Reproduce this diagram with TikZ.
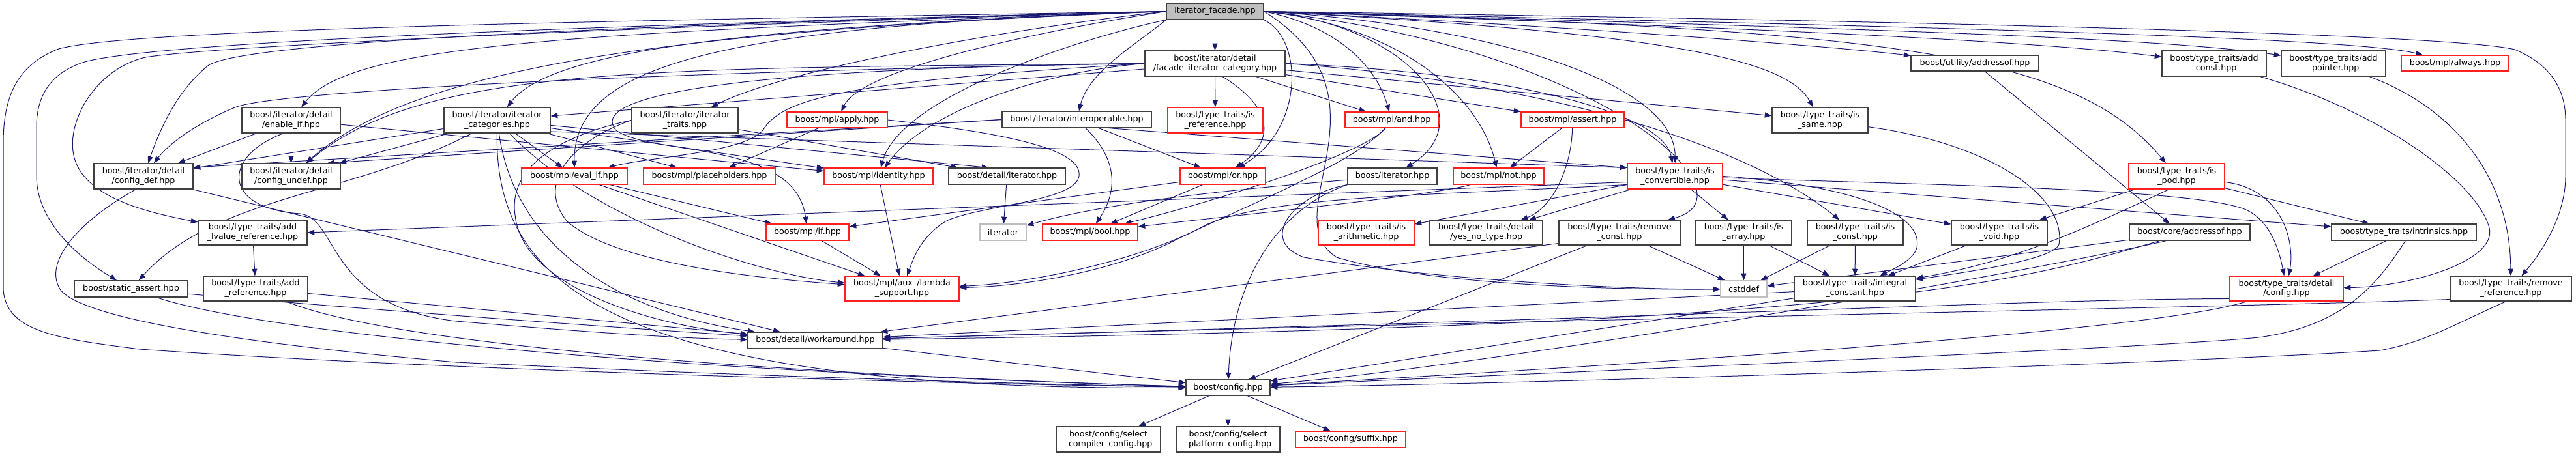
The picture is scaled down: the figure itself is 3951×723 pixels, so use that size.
\documentclass[tikz,border=0pt]{standalone}
\usepackage{fontspec}
\setmainfont{DejaVu Sans}
\usetikzlibrary{arrows.meta}
\pgfdeclarelayer{bg}
\pgfsetlayers{bg,main}
\definecolor{edgec}{HTML}{191970}
\definecolor{redc}{HTML}{FF2020}
\definecolor{darkc}{HTML}{404040}
\definecolor{grayc}{HTML}{BFBFBF}
\newcommand\bx[7]{\node[#6, minimum width={(#4-#2)*0.75pt}, minimum height={(#5-#3)*0.75pt}] (#1) at ({(#2+#4)/2},{(#3+#5)/2}) {#7};}
\tikzset{
  basebox/.style={line width=0.9pt, fill=white, inner sep=0pt, align=center, font=\fontsize{9.5}{11}\selectfont},
  nbox/.style={basebox, draw=darkc},
  rbox/.style={basebox, draw=redc},
  gbox/.style={basebox, draw=grayc},
  mbox/.style={basebox, draw=darkc, fill=grayc},
  lnk/.style={draw=edgec, line width=0.75pt, -{Triangle[length=8pt,width=6pt]}}
}
\begin{document}
\begin{tikzpicture}[x=0.75pt,y=-0.75pt]
\useasboundingbox (0,0) rectangle (3951,723);
% ---------------- nodes
\bx{tf}{1789}{5}{1938}{30}{mbox}{iterator\_facade.hpp}
\bx{fic}{1756}{78}{1971}{117}{nbox}{boost/iterator/detail\\/facade\_iterator\_category.hpp}
\bx{ei}{371}{165}{522}{204}{nbox}{boost/iterator/detail\\/enable\_if.hpp}
\bx{ic}{681}{165}{844}{204}{nbox}{boost/iterator/iterator\\\_categories.hpp}
\bx{it}{969}{165}{1132}{204}{nbox}{boost/iterator/iterator\\\_traits.hpp}
\bx{app}{1207}{172}{1361}{196}{rbox}{boost/mpl/apply.hpp}
\bx{iop}{1537}{171}{1766}{196}{nbox}{boost/iterator/interoperable.hpp}
\bx{isref}{1791}{165}{1937}{204}{rbox}{boost/type\_traits/is\\\_reference.hpp}
\bx{mand}{2063}{172}{2206}{196}{rbox}{boost/mpl/and.hpp}
\bx{ast}{2333}{172}{2491}{196}{rbox}{boost/mpl/assert.hpp}
\bx{same}{2718}{165}{2865}{204}{nbox}{boost/type\_traits/is\\\_same.hpp}
\bx{uaddr}{2931}{85}{3127}{109}{nbox}{boost/utility/addressof.hpp}
\bx{addc}{3316}{78}{3476}{117}{nbox}{boost/type\_traits/add\\\_const.hpp}
\bx{addp}{3499}{78}{3659}{117}{nbox}{boost/type\_traits/add\\\_pointer.hpp}
\bx{alw}{3683}{85}{3848}{109}{rbox}{boost/mpl/always.hpp}
\bx{cdef}{144}{251}{296}{290}{nbox}{boost/iterator/detail\\/config\_def.hpp}
\bx{cund}{371}{251}{522}{290}{nbox}{boost/iterator/detail\\/config\_undef.hpp}
\bx{evif}{800}{258}{962}{283}{rbox}{boost/mpl/eval\_if.hpp}
\bx{ph}{987}{258}{1189}{283}{rbox}{boost/mpl/placeholders.hpp}
\bx{ident}{1264}{258}{1431}{283}{rbox}{boost/mpl/identity.hpp}
\bx{diter}{1455}{258}{1634}{283}{nbox}{boost/detail/iterator.hpp}
\bx{mor}{1810}{258}{1941}{283}{rbox}{boost/mpl/or.hpp}
\bx{biter}{2067}{258}{2204}{283}{nbox}{boost/iterator.hpp}
\bx{mnot}{2229}{258}{2368}{283}{rbox}{boost/mpl/not.hpp}
\bx{conv}{2496}{251}{2642}{290}{rbox}{boost/type\_traits/is\\\_convertible.hpp}
\bx{pod}{3265}{251}{3412}{290}{rbox}{boost/type\_traits/is\\\_pod.hpp}
\bx{alref}{304}{338}{471}{376}{nbox}{boost/type\_traits/add\\\_lvalue\_reference.hpp}
\bx{mif}{1175}{344}{1302}{369}{rbox}{boost/mpl/if.hpp}
\bx{iter}{1503}{344}{1574}{369}{gbox}{iterator}
\bx{mbool}{1599}{344}{1745}{369}{rbox}{boost/mpl/bool.hpp}
\bx{arith}{2022}{338}{2169}{376}{rbox}{boost/type\_traits/is\\\_arithmetic.hpp}
\bx{yn}{2193}{338}{2366}{376}{nbox}{boost/type\_traits/detail\\/yes\_no\_type.hpp}
\bx{rc}{2391}{338}{2577}{376}{nbox}{boost/type\_traits/remove\\\_const.hpp}
\bx{arr}{2601}{338}{2748}{376}{nbox}{boost/type\_traits/is\\\_array.hpp}
\bx{isc}{2772}{338}{2919}{376}{nbox}{boost/type\_traits/is\\\_const.hpp}
\bx{isvoid}{2993}{338}{3140}{376}{nbox}{boost/type\_traits/is\\\_void.hpp}
\bx{caddr}{3266}{344}{3451}{369}{nbox}{boost/core/addressof.hpp}
\bx{intr}{3576}{344}{3798}{369}{nbox}{boost/type\_traits/intrinsics.hpp}
\bx{sa}{114}{431}{288}{456}{nbox}{boost/static\_assert.hpp}
\bx{aref}{312}{424}{472}{462}{nbox}{boost/type\_traits/add\\\_reference.hpp}
\bx{lam}{1296}{424}{1471}{462}{rbox}{boost/mpl/aux\_/lambda\\\_support.hpp}
\bx{cstd}{2639}{431}{2710}{456}{gbox}{cstddef}
\bx{ic2}{2752}{424}{2938}{462}{nbox}{boost/type\_traits/integral\\\_constant.hpp}
\bx{ttcfg}{3420}{424}{3594}{462}{rbox}{boost/type\_traits/detail\\/config.hpp}
\bx{rr}{3758}{424}{3944}{462}{nbox}{boost/type\_traits/remove\\\_reference.hpp}
\bx{wa}{1147}{510}{1354}{535}{nbox}{boost/detail/workaround.hpp}
\bx{cfg}{1819}{583}{1948}{607}{nbox}{boost/config.hpp}
\bx{selc}{1620}{655}{1780}{694}{nbox}{boost/config/select\\\_compiler\_config.hpp}
\bx{selp}{1804}{655}{1963}{694}{nbox}{boost/config/select\\\_platform\_config.hpp}
\bx{suf}{1987}{662}{2156}{687}{rbox}{boost/config/suffix.hpp}
% ---------------- edges
\begin{pgfonlayer}{bg}
% from iterator_facade
\draw[lnk] (tf.west) .. controls (900,32) and (200,45) .. (90,75) .. controls (25,100) and (5,150) .. (5,220) -- (5,440) .. controls (5,510) and (90,520) .. (214,536) .. controls (700,570) and (1500,590) .. (cfg);
\draw[lnk] (tf.west) .. controls (1000,36) and (250,62) .. (130,95) .. controls (75,112) and (56,150) .. (56,195) -- (56,270) .. controls (56,340) and (120,395) .. (sa);
\draw[lnk] (tf.west) .. controls (1000,40) and (330,70) .. (223,88) .. controls (150,105) and (105,180) .. (112,232) .. controls (120,300) and (220,325) .. (alref);
\draw[lnk] (tf.west) .. controls (900,40) and (380,65) .. (320,100) .. controls (270,140) and (245,200) .. (cdef);
\draw[lnk] (tf.west) .. controls (1100,45) and (650,90) .. (cund);
\draw[lnk] (tf.west) .. controls (900,50) and (540,65) .. (ei);
\draw[lnk] (tf.west) .. controls (1200,40) and (850,70) .. (ic);
\draw[lnk] (tf.west) .. controls (1500,50) and (1200,110) .. (it);
\draw[lnk] (tf.west) .. controls (1550,55) and (1320,110) .. (app);
\draw[lnk] (tf.west) .. controls (1100,40) and (880,100) .. (evif);
\draw[lnk] (tf.south west) .. controls (1650,60) and (1380,150) .. (ident);
\draw[lnk] (tf.south west) .. controls (1740,70) and (1670,110) .. (iop);
\draw[lnk] (tf) -- (fic);
\draw[lnk] (tf.south east) .. controls (2000,60) and (2000,200) .. (mor);
\draw[lnk] (tf.east) .. controls (2050,40) and (2110,100) .. (mand);
\draw[lnk] (tf.east) .. controls (2150,35) and (2280,180) .. (biter);
\draw[lnk] (tf.east) .. controls (2150,40) and (2270,150) .. (mnot);
\draw[lnk] (tf.east) .. controls (2300,40) and (2570,130) .. (conv);
\draw[lnk] (tf.east) .. controls (2550,50) and (2740,90) .. (same);
\draw[lnk] (tf.east) .. controls (2400,40) and (2800,70) .. (uaddr);
\draw[lnk] (tf.east) .. controls (2600,40) and (3100,60) .. (addc);
\draw[lnk] (tf.east) .. controls (2700,40) and (3300,55) .. (addp);
\draw[lnk] (tf.east) .. controls (2800,38) and (3600,55) .. (alw);
\draw[lnk] (tf.east) .. controls (2800,30) and (3750,50) .. (3857,76) .. controls (3915,100) and (3935,140) .. (3935,185) -- (3935,270) .. controls (3935,330) and (3900,385) .. (rr);
\draw[lnk] (tf.east) .. controls (2900,45) and (3180,80) .. (pod);
\draw[lnk] (tf.east) .. controls (2450,70) and (2700,300) .. (rc);
\draw[lnk] (tf.east) .. controls (2150,150) and (1950,330) .. (2050,395) .. controls (2200,440) and (2500,445) .. (cstd);
% from facade_iterator_category
\draw[lnk] (fic) -- (ic);
\draw[lnk] (fic.-60) .. controls (1960,170) and (1950,220) .. (mor);
\draw[lnk] (fic) -- (mand);
\draw[lnk] (fic.west) .. controls (1100,105) and (900,150) .. (945,200) .. controls (1000,240) and (1220,215) .. (mif);
\draw[lnk] (fic.west) .. controls (1300,125) and (1200,150) .. (1170,200) .. controls (1140,235) and (1000,240) .. (evif);
\draw[lnk] (fic.west) .. controls (1600,110) and (1420,170) .. (ident);
\draw[lnk] (fic) -- (ast);
\draw[lnk] (fic) -- (same);
\draw[lnk] (fic.east) .. controls (2300,120) and (2650,200) .. (isc);
\draw[lnk] (fic) -- (isref);
\draw[lnk] (fic.east) .. controls (2300,110) and (2550,170) .. (conv);
\draw[lnk] (fic.west) .. controls (1000,110) and (420,140) .. (360,165) .. controls (300,190) and (260,220) .. (cdef);
\draw[lnk] (fic.west) .. controls (1000,105) and (650,100) .. (cund);
% from iterator_categories
\draw[lnk] (ic) .. controls (760,420) and (900,600) .. (cfg);
\draw[lnk] (ic) .. controls (790,380) and (950,480) .. (wa);
\draw[lnk] (ic) -- (cdef);
\draw[lnk] (ic) -- (cund);
\draw[lnk] (ic) .. controls (540,300) and (330,300) .. (sa);
\draw[lnk] (ic) -- (evif);
\draw[lnk] (ic) -- (ph);
\draw[lnk] (ic) -- (ident);
\draw[lnk] (ic) -- (diter.155);
\draw[lnk] (ic) .. controls (900,330) and (1150,420) .. (lam);
\draw[lnk] (ic.-12) -- (conv.170);
% from iterator_traits
\draw[lnk] (it) -- (diter);
\draw[lnk] (it.west) .. controls (850,210) and (780,260) .. (790,330) .. controls (800,440) and (1000,500) .. (wa);
\draw[lnk] (it.west) .. controls (880,215) and (820,280) .. (870,340) .. controls (950,410) and (1200,430) .. (lam);
% from enable_if
\draw[lnk] (ei.-120) .. controls (340,240) and (340,320) .. (460,328) .. controls (520,335) and (500,470) .. (700,493) .. controls (900,510) and (1050,520) .. (wa);
\draw[lnk] (ei.-5) -- (ident);
\draw[lnk] (ei) -- (cdef);
\draw[lnk] (ei) -- (cund);
% from interoperable
\draw[lnk] (iop) .. controls (1720,250) and (1710,300) .. (mbool);
\draw[lnk] (iop) -- (mor);
\draw[lnk] (iop.-15) -- (conv.170);
\draw[lnk] (iop.west) -- (cdef.10);
\draw[lnk] (iop.west) -- (cund.20);
% from apply
\draw[lnk] (app) -- (ph);
\draw[lnk] (app.east) .. controls (1550,205) and (1660,230) .. (1655,270) .. controls (1650,310) and (1500,315) .. (1450,340) .. controls (1410,365) and (1400,400) .. (lam);
% mpl small ones
\draw[lnk] (evif) -- (mif);
\draw[lnk] (evif) -- (lam);
\draw[lnk] (ident) -- (lam);
\draw[lnk] (mif) -- (lam);
\draw[lnk] (mor) -- (mbool);
\draw[lnk] (mor) -- (mif);
\draw[lnk] (mand) .. controls (2100,230) and (1900,300) .. (mbool);
\draw[lnk] (mand) .. controls (2080,250) and (1900,320) .. (1800,370) .. controls (1700,420) and (1560,440) .. (lam);
\draw[lnk] (mnot) .. controls (2200,300) and (1900,330) .. (mbool);
\draw[lnk] (ast) -- (mnot);
\draw[lnk] (ast) .. controls (2410,260) and (2380,320) .. (yn);
% boost/iterator.hpp, detail/iterator
\draw[lnk] (biter) .. controls (1900,290) and (1700,310) .. (iter);
\draw[lnk] (biter.south west) .. controls (1980,300) and (1930,370) .. (2000,395) .. controls (2200,430) and (2500,445) .. (cstd);
\draw[lnk] (biter.south west) .. controls (1960,320) and (1890,430) .. (cfg);
\draw[lnk] (diter) -- (iter);
% from is_convertible
\draw[lnk] (conv) -- (intr);
\draw[lnk] (conv) .. controls (3000,285) and (3350,290) .. (3440,320) .. controls (3480,335) and (3495,380) .. (ttcfg);
\draw[lnk] (conv) -- (isvoid);
\draw[lnk] (conv) -- (arr);
\draw[lnk] (conv.east) .. controls (2850,285) and (2950,330) .. (2940,380) .. controls (2935,400) and (2900,415) .. (ic2);
\draw[lnk] (conv.190) -- (arith.10);
\draw[lnk] (conv) -- (yn);
\draw[lnk] (conv.187) -- (alref.east);
\draw[lnk] (conv.190) .. controls (2200,300) and (1950,300) .. (1850,345) .. controls (1750,400) and (1580,435) .. (lam);
% type traits lower
\draw[lnk] (rc) -- (cstd);
\draw[lnk] (rc) -- (cfg);
\draw[lnk] (rc.190) -- (wa);
\draw[lnk] (arr) -- (cstd);
\draw[lnk] (arr) -- (ic2);
\draw[lnk] (isc) -- (cstd);
\draw[lnk] (isc) -- (ic2);
\draw[lnk] (isvoid) -- (ic2);
\draw[lnk] (pod) -- (isvoid);
\draw[lnk] (pod) .. controls (3500,290) and (3520,370) .. (ttcfg);
\draw[lnk] (pod) -- (intr);
\draw[lnk] (pod.240) .. controls (3220,340) and (3100,400) .. (ic2);
\draw[lnk] (same) .. controls (3050,220) and (3170,300) .. (3158,375) .. controls (3150,400) and (3000,420) .. (ic2);
\draw[lnk] (uaddr) -- (caddr.157);
\draw[lnk] (caddr.200) .. controls (3100,420) and (2300,560) .. (cfg);
\draw[lnk] (caddr) .. controls (3100,430) and (2900,500) .. (wa);
\draw[lnk] (caddr) -- (cstd);
\draw[lnk] (intr) -- (ttcfg);
\draw[lnk] (intr.-80) .. controls (3650,430) and (3600,500) .. (3464,518) .. controls (3300,535) and (2300,575) .. (cfg);
\draw[lnk] (ttcfg) .. controls (3300,510) and (2500,560) .. (cfg);
\draw[lnk] (ttcfg.190) .. controls (3100,460) and (2800,480) .. (wa);
\draw[lnk] (rr.-110) .. controls (3760,500) and (3720,525) .. (3650,538) .. controls (3300,560) and (2300,590) .. (cfg);
\draw[lnk] (rr.190) .. controls (3500,470) and (2400,490) .. (wa);
\draw[lnk] (addc) .. controls (3650,170) and (3800,280) .. (3818,350) .. controls (3830,400) and (3700,440) .. (ttcfg);
\draw[lnk] (addp) .. controls (3750,160) and (3850,260) .. (rr);
\draw[lnk] (ic2) -- (cfg);
\draw[lnk] (ic2) -- (wa);
% left lower
\draw[lnk] (alref) -- (aref);
\draw[lnk] (aref) -- (wa);
\draw[lnk] (aref) .. controls (600,530) and (1200,575) .. (cfg);
\draw[lnk] (sa) .. controls (500,470) and (900,500) .. (wa);
\draw[lnk] (sa) .. controls (400,510) and (1000,570) .. (cfg);
\draw[lnk] (cdef.-15) -- (wa);
\draw[lnk] (cdef.-120) .. controls (120,340) and (70,400) .. (90,440) .. controls (110,490) and (400,530) .. (700,556) .. controls (1200,580) and (1600,590) .. (cfg);
% config
\draw[lnk] (wa) -- (cfg);
\draw[lnk] (cfg) -- (selc);
\draw[lnk] (cfg) -- (selp);
\draw[lnk] (cfg) -- (suf);
\end{pgfonlayer}
\end{tikzpicture}
\end{document}
